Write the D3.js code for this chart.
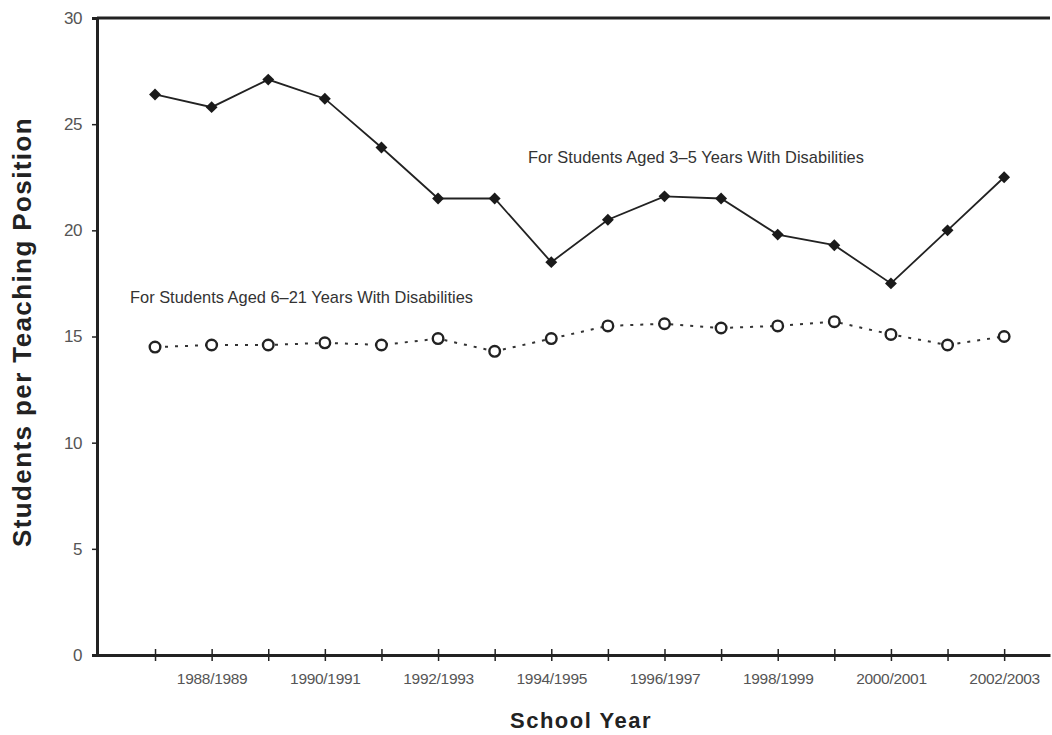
<!DOCTYPE html>
<html><head><meta charset="utf-8">
<script src="https://cdn.jsdelivr.net/npm/d3@7"></script>
<style>body{margin:0;background:#fff}svg{display:block}</style>
</head><body><svg id="c" width="1052" height="735"></svg>
<script>
const years = ["1987/1988","1988/1989","1989/1990","1990/1991","1991/1992","1992/1993","1993/1994","1994/1995","1995/1996","1996/1997","1997/1998","1998/1999","1999/2000","2000/2001","2001/2002","2002/2003"];
const aged3to5 = [26.4,25.8,27.1,26.2,23.9,21.5,21.5,18.5,20.5,21.6,21.5,19.8,19.3,17.5,20.0,22.5];
const aged6to21 = [14.5,14.6,14.6,14.7,14.6,14.9,14.3,14.9,15.5,15.6,15.4,15.5,15.7,15.1,14.6,15.0];
const yTicks = [0,5,10,15,20,25,30];
const labelEvery = 2;

const svg = d3.select("#c");
const L=97, R=1050, T=18, B=655;
const x = d3.scaleLinear().domain([-1.025, 15.81]).range([L, R]);
const y = d3.scaleLinear().domain([0,30]).range([B, T]);
const font = "'Liberation Sans', Arial, sans-serif";

// top border
svg.append("line").attr("x1",L).attr("x2",R).attr("y1",T).attr("y2",T)
  .attr("stroke","#222").attr("stroke-width",3);

// y axis
const ya = svg.append("g").attr("transform",`translate(${L},0)`)
  .call(d3.axisLeft(y).tickValues(yTicks).tickSize(5).tickPadding(10));
ya.select(".domain").attr("stroke","#222").attr("stroke-width",3);
ya.selectAll(".tick line").attr("stroke","#222").attr("stroke-width",1.5);
ya.selectAll("text").attr("font-family",font).attr("font-size",17).attr("fill","#555")
  .attr("letter-spacing","-0.5");

// x axis
const xa = svg.append("g").attr("transform",`translate(0,${B})`)
  .call(d3.axisBottom(x).tickValues(d3.range(0,16)).tickSize(0)
    .tickFormat(i => (i%labelEvery===1) ? years[i] : ""));
xa.select(".domain").attr("stroke","#222").attr("stroke-width",3);
xa.selectAll(".tick line").remove();
xa.selectAll(".tick").append("line")
  .attr("y1",-6).attr("y2",6).attr("stroke","#222").attr("stroke-width",1.5);
xa.selectAll("text").attr("font-family",font).attr("font-size",15.5).attr("fill","#555")
  .attr("dy","0").attr("y",29).attr("letter-spacing","-0.3");

// lines
const line = d3.line().x((d,i)=>x(i)).y(d=>y(d));
svg.append("path").datum(aged3to5).attr("d",line).attr("fill","none")
  .attr("stroke","#222").attr("stroke-width",1.8);
svg.append("path").datum(aged6to21).attr("d",line).attr("fill","none")
  .attr("stroke","#333").attr("stroke-width",2).attr("stroke-dasharray","3,7");

// markers
svg.selectAll(".dia").data(aged3to5).enter().append("path")
  .attr("d", d3.symbol(d3.symbolDiamond2,90)())
  .attr("transform",(d,i)=>`translate(${x(i)},${y(d)})`)
  .attr("fill","#1a1a1a");
svg.selectAll(".circ").data(aged6to21).enter().append("circle")
  .attr("cx",(d,i)=>x(i)).attr("cy",d=>y(d)).attr("r",5.3)
  .attr("fill","#fff").attr("stroke","#222").attr("stroke-width",2.4);

// annotations
svg.append("text").attr("x",528).attr("y",163).text("For Students Aged 3–5 Years With Disabilities")
  .attr("font-family",font).attr("font-size",16.4).attr("fill","#333").attr("textLength",336);
svg.append("text").attr("x",130).attr("y",303).text("For Students Aged 6–21 Years With Disabilities")
  .attr("font-family",font).attr("font-size",16.4).attr("fill","#333").attr("textLength",343);

// axis titles
svg.append("text").attr("x",581).attr("y",728).attr("text-anchor","middle")
  .text("School Year").attr("font-family",font).attr("font-weight","bold")
  .attr("font-size",22).attr("letter-spacing","1.5").attr("fill","#222");
svg.append("text").attr("transform","translate(31,332) rotate(-90)").attr("text-anchor","middle")
  .text("Students per Teaching Position").attr("font-family",font).attr("font-weight","bold")
  .attr("font-size",26).attr("letter-spacing","1.4").attr("fill","#222");
</script></body></html>
